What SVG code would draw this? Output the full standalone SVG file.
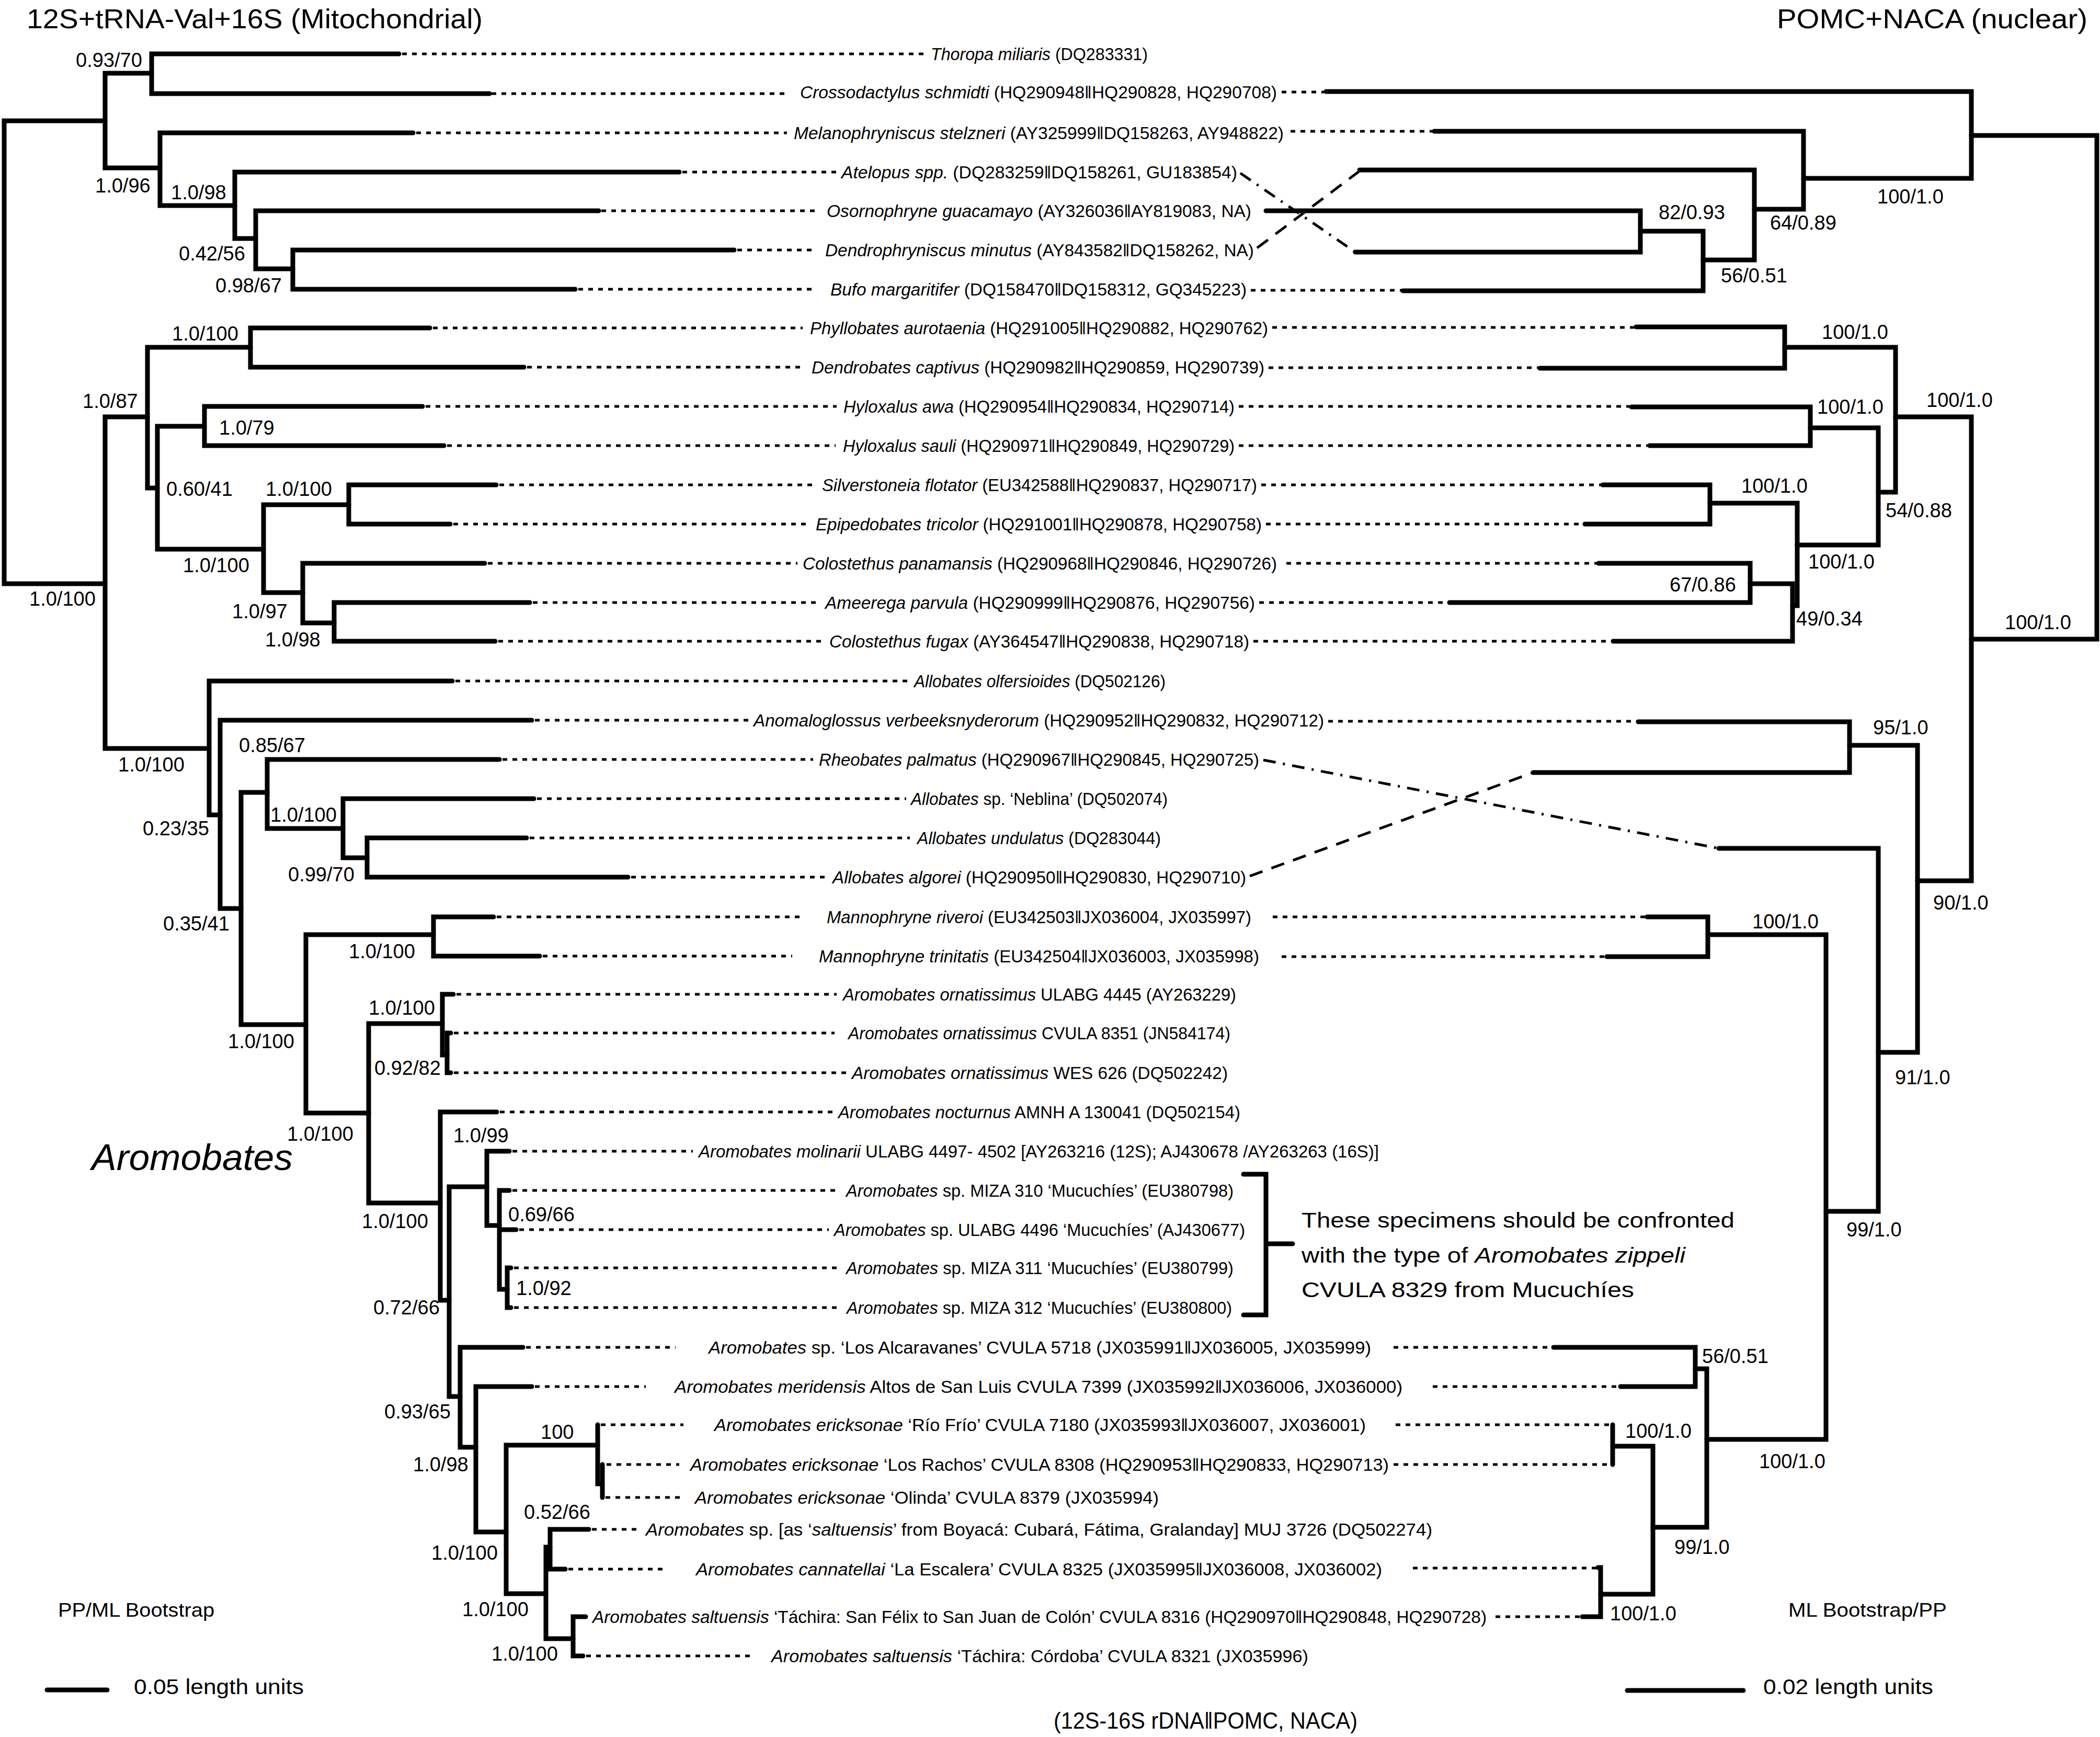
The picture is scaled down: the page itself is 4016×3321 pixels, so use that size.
<svg xmlns="http://www.w3.org/2000/svg" width="4016" height="3321" viewBox="0 0 4016 3321">
<style>
.br{fill:none;stroke:#000;stroke-width:9;stroke-linecap:round;stroke-linejoin:miter}
.dt{fill:none;stroke:#000;stroke-width:5;stroke-dasharray:9 10}
.dd{fill:none;stroke:#000;stroke-width:5;stroke-dasharray:26 18}
.dc{fill:none;stroke:#000;stroke-width:5;stroke-dasharray:24 14 4 14}
text{font-family:"Liberation Sans",Arial,sans-serif;fill:#000}
.lb{font-size:33px}
.nm{font-size:38px}
.it{font-style:italic}
.tt{font-size:52px}
</style>
<rect width="4016" height="3321" fill="#fff"/>
<text class="tt" x="51" y="54" textLength="872" lengthAdjust="spacingAndGlyphs">12S+tRNA-Val+16S (Mitochondrial)</text>
<text class="tt" x="3398" y="54" textLength="594" lengthAdjust="spacingAndGlyphs">POMC+NACA (nuclear)</text>
<text x="2015" y="3305" font-size="44" textLength="581" lengthAdjust="spacingAndGlyphs">(12S-16S rDNA‖POMC, NACA)</text>
<text class="it" x="175" y="2237" font-size="70" textLength="385" lengthAdjust="spacingAndGlyphs">Aromobates</text>
<text x="111" y="3091" font-size="37" textLength="299" lengthAdjust="spacingAndGlyphs">PP/ML Bootstrap</text>
<text x="3420" y="3091" font-size="37" textLength="303" lengthAdjust="spacingAndGlyphs">ML Bootstrap/PP</text>
<text x="256" y="3239" font-size="40" textLength="325" lengthAdjust="spacingAndGlyphs">0.05 length units</text>
<text x="3372" y="3239" font-size="40" textLength="325" lengthAdjust="spacingAndGlyphs">0.02 length units</text>
<path class="br" d="M90,3231H205M3112,3232H3334" stroke-width="11"/>

<g id="connectors">
<g id="mito-tree">
<path class="br" d="M201,231H8V1116H201"/>
<path class="br" d="M290,140H201V321H306"/>
<path class="br" d="M763,103H290V179H936"/>
<path class="br" d="M790,254H306V393H449"/>
<path class="br" d="M1299,329H449V456H489"/>
<path class="br" d="M1145,403H489V514H560"/>
<path class="br" d="M1404,478H560V553H1100"/>
<path class="br" d="M282,797H201V1431H400"/>
<path class="br" d="M479,664H282V933H301"/>
<path class="br" d="M822,627H479V702H1002"/>
<path class="br" d="M391,815H301V1050H504"/>
<path class="br" d="M808,777H391V852H849"/>
<path class="br" d="M667,965H504V1133H579"/>
<path class="br" d="M949,927H667V1002H861"/>
<path class="br" d="M927,1077H579V1191H639"/>
<path class="br" d="M1013,1152H639V1226H947"/>
<path class="br" d="M865,1302H400V1558H421"/>
<path class="br" d="M1017,1377H421V1737H461"/>
<path class="br" d="M511,1515H461V1959H585"/>
<path class="br" d="M955,1452H511V1584H656"/>
<path class="br" d="M1021,1527H656V1640H702"/>
<path class="br" d="M1007,1602H702V1677H1201"/>
<path class="br" d="M829,1787H585V2128H705"/>
<path class="br" d="M944,1753H829V1828H1032"/>
<path class="br" d="M846,1957H705V2300H842"/>
<path class="br" d="M867,1901H846V2017H855"/>
<path class="br" d="M862,1975H855V2051H862"/>
<path class="br" d="M950,2126H842V2486H859"/>
<path class="br" d="M931,2269H859V2670H880"/>
<path class="br" d="M974,2201H931V2343H955"/>
<path class="br" d="M974,2276H955V2465H970M955,2351H987"/>
<path class="br" d="M977,2424H970V2500H977"/>
<path class="br" d="M1000,2576H880V2767H910"/>
<path class="br" d="M1017,2651H910V2929H968"/>
<path class="br" d="M1143,2763H968V3047H1044"/>
<path class="br" d="M1143,2724V2837H1152"/>
<path class="br" d="M1152,2800V2863" stroke-width="12"/>
<path class="br" d="M1052,2958H1044V3133H1096"/>
<path class="br" d="M1126,2924H1052V3000H1081"/>
<path class="br" d="M1120,3091H1096V3166H1115"/>
</g>
<g id="nuclear-tree">
<path class="br" d="M3770,259H4010V1222H3770"/>
<path class="br" d="M2536,175H3770V341H3449"/>
<path class="br" d="M2743,251H3449V400H3355"/>
<path class="br" d="M2600,325H3355V497H3257"/>
<path class="br" d="M3137,442H3257V556H2683"/>
<path class="br" d="M2421,403H3137V482H2592"/>
<path class="br" d="M3625,797H3770V1684H3667"/>
<path class="br" d="M3413,664H3625V941H3592"/>
<path class="br" d="M3129,625H3413V704H2945"/>
<path class="br" d="M3462,818H3592V1042H3437"/>
<path class="br" d="M3120,778H3462V852H3155"/>
<path class="br" d="M3270,962H3437V1158H3428"/>
<path class="br" d="M3065,927H3270V1002H3031"/>
<path class="br" d="M3347,1116H3428V1226H3085"/>
<path class="br" d="M3057,1077H3347V1152H2772"/>
<path class="br" d="M3537,1425H3667V2012H3592"/>
<path class="br" d="M3133,1380H3537V1477H2932"/>
<path class="br" d="M3287,1622H3592V2316H3492"/>
<path class="br" d="M3266,1787H3492V2752H3264"/>
<path class="br" d="M3150,1753H3266V1829H3073"/>
<path class="br" d="M3242,2617H3264V2920H3161"/>
<path class="br" d="M2971,2576H3242V2651H3099"/>
<path class="br" d="M3084,2765H3161V3048H3061"/>
<path class="br" d="M3084,2724V2800"/>
<path class="br" d="M3056,2997H3061V3091H3026"/>
</g>
<g id="leaders">
<path class="dt" d="M769,103H1767M940,179H1507M796,254H1505M1305,329H1600M1150,403H1560M1410,478H1562M1106,553H1560M828,627H1535M1008,702H1538M814,777H1600M855,852H1598M955,927H1553M867,1002H1550M933,1077H1525M1019,1152H1567M953,1226H1575M871,1302H1737M1023,1377H1432M961,1452H1555M1027,1527H1733M1013,1602H1740M1207,1677H1582M950,1753H1532M1038,1828H1515M873,1901H1600M868,1975H1596M868,2051H1618M956,2126H1592M980,2201H1325M980,2276H1600M993,2351H1585M983,2424H1600M983,2500H1600M1006,2576H1292M1023,2651H1235M1149,2724H1307M1160,2800H1299M1158,2863H1303M1132,2924H1225M1087,3000H1269M1121,3166H1443"/>
<path class="dt" d="M2451,176H2532M2468,251H2740M2392,555H2680M2433,626H3125M2426,703H2942M2369,777H3116M2369,852H3152M2412,927H3062M2421,1002H3028M2460,1077H3054M2408,1152H2769M2397,1226H3082M2540,1379H3130M2434,1753H3147M2451,1829H3070M2665,2576H2968M2740,2651H3096M2669,2724H3084M2665,2800H3084M2702,2998H3056M2860,3091H3026"/>
<path class="dc" d="M2372,331L2592,482M2416,1453L3287,1622"/>
<path class="dd" d="M2404,474L2600,327M2390,1675L2932,1477"/>
</g>
<path id="bracket" class="br" stroke-width="12" stroke-linecap="butt" d="M2378,2245H2421V2514H2378M2421,2378H2472"/>
</g>

<g id="taxa" class="lb">
<g id="t01"><text x="1780" y="115" textLength="415" lengthAdjust="spacingAndGlyphs"><tspan class="it">Thoropa miliaris</tspan> (DQ283331)</text></g>
<g id="t02"><text x="1530" y="188" textLength="912" lengthAdjust="spacingAndGlyphs"><tspan class="it">Crossodactylus schmidti</tspan> (HQ290948‖HQ290828, HQ290708)</text></g>
<g id="t03"><text x="1518" y="266" textLength="937" lengthAdjust="spacingAndGlyphs"><tspan class="it">Melanophryniscus stelzneri</tspan> (AY325999‖DQ158263, AY948822)</text></g>
<g id="t04"><text x="1609" y="341" textLength="757" lengthAdjust="spacingAndGlyphs"><tspan class="it">Atelopus spp.</tspan> (DQ283259‖DQ158261, GU183854)</text></g>
<g id="t05"><text x="1581" y="415" textLength="812" lengthAdjust="spacingAndGlyphs"><tspan class="it">Osornophryne guacamayo</tspan> (AY326036‖AY819083, NA)</text></g>
<g id="t06"><text x="1578" y="490" textLength="820" lengthAdjust="spacingAndGlyphs"><tspan class="it">Dendrophryniscus minutus</tspan> (AY843582‖DQ158262, NA)</text></g>
<g id="t07"><text x="1588" y="565" textLength="796" lengthAdjust="spacingAndGlyphs"><tspan class="it">Bufo margaritifer</tspan> (DQ158470‖DQ158312, GQ345223)</text></g>
<g id="t08"><text x="1549" y="639" textLength="876" lengthAdjust="spacingAndGlyphs"><tspan class="it">Phyllobates aurotaenia</tspan> (HQ291005‖HQ290882, HQ290762)</text></g>
<g id="t09"><text x="1552" y="714" textLength="866" lengthAdjust="spacingAndGlyphs"><tspan class="it">Dendrobates captivus</tspan> (HQ290982‖HQ290859, HQ290739)</text></g>
<g id="t10"><text x="1613" y="789" textLength="748" lengthAdjust="spacingAndGlyphs"><tspan class="it">Hyloxalus awa</tspan> (HQ290954‖HQ290834, HQ290714)</text></g>
<g id="t11"><text x="1612" y="864" textLength="749" lengthAdjust="spacingAndGlyphs"><tspan class="it">Hyloxalus sauli</tspan> (HQ290971‖HQ290849, HQ290729)</text></g>
<g id="t12"><text x="1572" y="939" textLength="832" lengthAdjust="spacingAndGlyphs"><tspan class="it">Silverstoneia flotator</tspan> (EU342588‖HQ290837, HQ290717)</text></g>
<g id="t13"><text x="1560" y="1014" textLength="853" lengthAdjust="spacingAndGlyphs"><tspan class="it">Epipedobates tricolor</tspan> (HQ291001‖HQ290878, HQ290758)</text></g>
<g id="t14"><text x="1535" y="1089" textLength="907" lengthAdjust="spacingAndGlyphs"><tspan class="it">Colostethus panamansis</tspan> (HQ290968‖HQ290846, HQ290726)</text></g>
<g id="t15"><text x="1578" y="1164" textLength="822" lengthAdjust="spacingAndGlyphs"><tspan class="it">Ameerega parvula</tspan> (HQ290999‖HQ290876, HQ290756)</text></g>
<g id="t16"><text x="1586" y="1238" textLength="803" lengthAdjust="spacingAndGlyphs"><tspan class="it">Colostethus fugax</tspan> (AY364547‖HQ290838, HQ290718)</text></g>
<g id="t17"><text x="1748" y="1314" textLength="481" lengthAdjust="spacingAndGlyphs"><tspan class="it">Allobates olfersioides</tspan> (DQ502126)</text></g>
<g id="t18"><text x="1441" y="1389" textLength="1091" lengthAdjust="spacingAndGlyphs"><tspan class="it">Anomaloglossus verbeeksnyderorum</tspan> (HQ290952‖HQ290832, HQ290712)</text></g>
<g id="t19"><text x="1566" y="1464" textLength="842" lengthAdjust="spacingAndGlyphs"><tspan class="it">Rheobates palmatus</tspan> (HQ290967‖HQ290845, HQ290725)</text></g>
<g id="t20"><text x="1742" y="1539" textLength="491" lengthAdjust="spacingAndGlyphs"><tspan class="it">Allobates</tspan> sp. ‘Neblina’ (DQ502074)</text></g>
<g id="t21"><text x="1754" y="1614" textLength="466" lengthAdjust="spacingAndGlyphs"><tspan class="it">Allobates undulatus</tspan> (DQ283044)</text></g>
<g id="t22"><text x="1592" y="1689" textLength="791" lengthAdjust="spacingAndGlyphs"><tspan class="it">Allobates algorei</tspan> (HQ290950‖HQ290830, HQ290710)</text></g>
<g id="t23"><text x="1581" y="1765" textLength="812" lengthAdjust="spacingAndGlyphs"><tspan class="it">Mannophryne riveroi</tspan> (EU342503‖JX036004, JX035997)</text></g>
<g id="t24"><text x="1566" y="1840" textLength="842" lengthAdjust="spacingAndGlyphs"><tspan class="it">Mannophryne trinitatis</tspan> (EU342504‖JX036003, JX035998)</text></g>
<g id="t25"><text x="1612" y="1913" textLength="752" lengthAdjust="spacingAndGlyphs"><tspan class="it">Aromobates ornatissimus</tspan> ULABG 4445 (AY263229)</text></g>
<g id="t26"><text x="1622" y="1987" textLength="731" lengthAdjust="spacingAndGlyphs"><tspan class="it">Aromobates ornatissimus</tspan> CVULA 8351 (JN584174)</text></g>
<g id="t27"><text x="1629" y="2063" textLength="719" lengthAdjust="spacingAndGlyphs"><tspan class="it">Aromobates ornatissimus</tspan>  WES 626 (DQ502242)</text></g>
<g id="t28"><text x="1603" y="2138" textLength="769" lengthAdjust="spacingAndGlyphs"><tspan class="it">Aromobates nocturnus</tspan> AMNH A 130041 (DQ502154)</text></g>
<g id="t29"><text x="1336" y="2213" textLength="1301" lengthAdjust="spacingAndGlyphs"><tspan class="it">Aromobates molinarii</tspan> ULABG 4497- 4502 [AY263216 (12S); AJ430678 /AY263263 (16S)]</text></g>
<g id="t30"><text x="1618" y="2288" textLength="741" lengthAdjust="spacingAndGlyphs"><tspan class="it">Aromobates</tspan> sp. MIZA 310 ‘Mucuchíes’ (EU380798)</text></g>
<g id="t31"><text x="1595" y="2363" textLength="786" lengthAdjust="spacingAndGlyphs"><tspan class="it">Aromobates</tspan> sp. ULABG 4496 ‘Mucuchíes’ (AJ430677)</text></g>
<g id="t32"><text x="1618" y="2436" textLength="741" lengthAdjust="spacingAndGlyphs"><tspan class="it">Aromobates</tspan> sp. MIZA 311 ‘Mucuchíes’ (EU380799)</text></g>
<g id="t33"><text x="1619" y="2512" textLength="737" lengthAdjust="spacingAndGlyphs"><tspan class="it">Aromobates</tspan> sp. MIZA 312 ‘Mucuchíes’ (EU380800)</text></g>
<g id="t34"><text x="1355" y="2588" textLength="1267" lengthAdjust="spacingAndGlyphs"><tspan class="it">Aromobates</tspan> sp. ‘Los Alcaravanes’ CVULA 5718 (JX035991‖JX036005, JX035999)</text></g>
<g id="t35"><text x="1290" y="2663" textLength="1392" lengthAdjust="spacingAndGlyphs"><tspan class="it">Aromobates meridensis</tspan> Altos de San Luis CVULA 7399 (JX035992‖JX036006, JX036000)</text></g>
<g id="t36"><text x="1366" y="2736" textLength="1246" lengthAdjust="spacingAndGlyphs"><tspan class="it">Aromobates ericksonae</tspan> ‘Río Frío’ CVULA 7180 (JX035993‖JX036007, JX036001)</text></g>
<g id="t37"><text x="1320" y="2812" textLength="1336" lengthAdjust="spacingAndGlyphs"><tspan class="it">Aromobates ericksonae</tspan> ‘Los Rachos’ CVULA 8308 (HQ290953‖HQ290833, HQ290713)</text></g>
<g id="t38"><text x="1329" y="2875" textLength="887" lengthAdjust="spacingAndGlyphs"><tspan class="it">Aromobates ericksonae</tspan> ‘Olinda’ CVULA 8379 (JX035994)</text></g>
<g id="t39"><text x="1235" y="2936" textLength="1504" lengthAdjust="spacingAndGlyphs"><tspan class="it">Aromobates</tspan> sp. [as ‘<tspan class="it">saltuensis</tspan>’ from Boyacá: Cubará, Fátima, Gralanday]  MUJ 3726  (DQ502274)</text></g>
<g id="t40"><text x="1331" y="3012" textLength="1312" lengthAdjust="spacingAndGlyphs"><tspan class="it">Aromobates cannatellai</tspan> ‘La Escalera’ CVULA 8325 (JX035995‖JX036008, JX036002)</text></g>
<g id="t41"><text x="1133" y="3103" textLength="1710" lengthAdjust="spacingAndGlyphs"><tspan class="it">Aromobates saltuensis</tspan>  ‘Táchira: San Félix to San Juan de Colón’ CVULA 8316 (HQ290970‖HQ290848, HQ290728)</text></g>
<g id="t42"><text x="1475" y="3178" textLength="1027" lengthAdjust="spacingAndGlyphs"><tspan class="it">Aromobates saltuensis</tspan> ‘Táchira: Córdoba’ CVULA 8321 (JX035996)</text></g>
</g>

<g id="note">
<text x="2489" y="2347" font-size="41" textLength="828" lengthAdjust="spacingAndGlyphs">These specimens should be confronted</text>
<text x="2489" y="2414" font-size="41" textLength="734" lengthAdjust="spacingAndGlyphs">with the type of <tspan class="it">Aromobates zippeli</tspan></text>
<text x="2489" y="2480" font-size="41" textLength="636" lengthAdjust="spacingAndGlyphs">CVULA 8329 from Mucuchíes</text>
</g>

<g id="support-mito" class="nm">
<text x="145" y="128">0.93/70</text>
<text x="182" y="368">1.0/96</text>
<text x="327" y="381">1.0/98</text>
<text x="342" y="498">0.42/56</text>
<text x="412" y="559">0.98/67</text>
<text x="329" y="651">1.0/100</text>
<text x="158" y="780">1.0/87</text>
<text x="419" y="831">1.0/79</text>
<text x="318" y="948">0.60/41</text>
<text x="508" y="948">1.0/100</text>
<text x="350" y="1094">1.0/100</text>
<text x="444" y="1182">1.0/97</text>
<text x="507" y="1236">1.0/98</text>
<text x="56" y="1158">1.0/100</text>
<text x="226" y="1475">1.0/100</text>
<text x="273" y="1597">0.23/35</text>
<text x="457" y="1438">0.85/67</text>
<text x="517" y="1571">1.0/100</text>
<text x="551" y="1685">0.99/70</text>
<text x="312" y="1779">0.35/41</text>
<text x="667" y="1832">1.0/100</text>
<text x="436" y="2004">1.0/100</text>
<text x="705" y="1940">1.0/100</text>
<text x="716" y="2055">0.92/82</text>
<text x="549" y="2181">1.0/100</text>
<text x="867" y="2184">1.0/99</text>
<text x="972" y="2335">0.69/66</text>
<text x="692" y="2348">1.0/100</text>
<text x="987" y="2476">1.0/92</text>
<text x="714" y="2513">0.72/66</text>
<text x="735" y="2712">0.93/65</text>
<text x="790" y="2813">1.0/98</text>
<text x="1034" y="2751">100</text>
<text x="1002" y="2904">0.52/66</text>
<text x="825" y="2982">1.0/100</text>
<text x="884" y="3090">1.0/100</text>
<text x="940" y="3175">1.0/100</text>
</g>
<g id="support-nuclear" class="nm">
<text x="3172" y="419">82/0.93</text>
<text x="3385" y="439">64/0.89</text>
<text x="3590" y="389">100/1.0</text>
<text x="3291" y="540">56/0.51</text>
<text x="3484" y="648">100/1.0</text>
<text x="3684" y="778">100/1.0</text>
<text x="3475" y="791">100/1.0</text>
<text x="3330" y="942">100/1.0</text>
<text x="3606" y="989">54/0.88</text>
<text x="3458" y="1087">100/1.0</text>
<text x="3193" y="1131">67/0.86</text>
<text x="3435" y="1196">49/0.34</text>
<text x="3834" y="1203">100/1.0</text>
<text x="3582" y="1404">95/1.0</text>
<text x="3697" y="1739">90/1.0</text>
<text x="3351" y="1775">100/1.0</text>
<text x="3624" y="2073">91/1.0</text>
<text x="3531" y="2364">99/1.0</text>
<text x="3255" y="2606">56/0.51</text>
<text x="3108" y="2749">100/1.0</text>
<text x="3364" y="2807">100/1.0</text>
<text x="3202" y="2971">99/1.0</text>
<text x="3079" y="3098">100/1.0</text>
</g>
</svg>
